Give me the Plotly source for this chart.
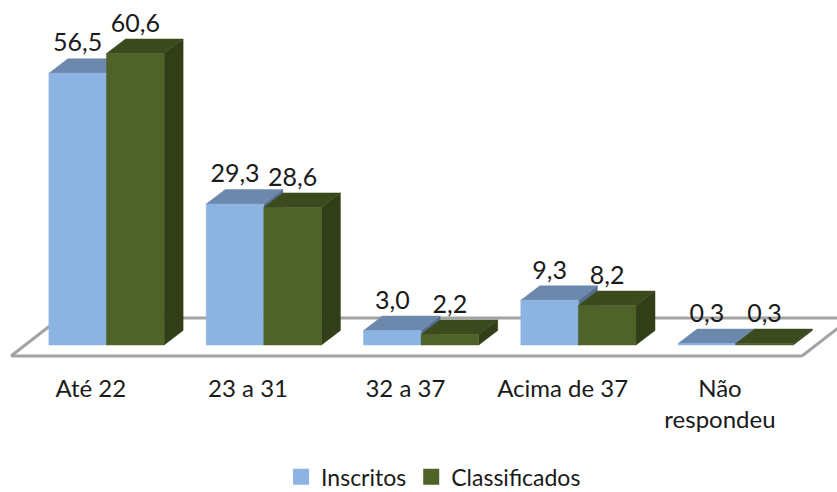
import plotly.graph_objects as go

categories = ["Até 22", "23 a 31", "32 a 37", "Acima de 37", "Não<br>respondeu"]
inscritos = [56.5, 29.3, 3.0, 9.3, 0.3]
classificados = [60.6, 28.6, 2.2, 8.2, 0.3]

W, H = 837, 492
PX_X = 157.3            # pixels per category
PX_Y = 4.81             # pixels per value unit
X0 = 106.5              # pixel of first category
Y0 = 345                # pixel of value 0
PLOT_H = 366
BAR = 57.6 / PX_X
DX = 19 / PX_X
DY = 14.5 / PX_Y
FONT = "Lato, Carlito, sans-serif"
INK = "#1a1a1a"
LINE = "#a3a3a3"


def px_x(p):
    return (p - X0) / PX_X


def px_y(p):
    return (Y0 - p) / PX_Y


def poly(xs, ys, color):
    return go.Scatter(x=xs, y=ys, mode="lines", fill="toself", fillcolor=color,
                      line=dict(color=color, width=0.5), hoverinfo="skip", showlegend=False)


def seg(xs, ys):
    return go.Scatter(x=xs, y=ys, mode="lines", line=dict(color=LINE, width=3),
                      hoverinfo="skip", showlegend=False)


fig = go.Figure()

# floor of the 3D box
back = px_y(318)
front = px_y(356)
fig.add_trace(seg([px_x(63), px_x(860)], [back, back]))
fig.add_trace(seg([px_x(11), px_x(60)], [front, px_y(318)]))
fig.add_trace(seg([px_x(802), px_x(838)], [front, px_y(328)]))
fig.add_trace(seg([px_x(11), px_x(802)], [front, front]))

series = [
    (inscritos, -BAR, "#8DB3E2", "#6C88AD", "#566F8F"),
    (classificados, 0, "#4F6228", "#3C4B1E", "#323E17"),
]
for i in range(len(categories)):
    for vals, off, c_front, c_top, c_side in series:
        v = vals[i]
        l, r = i + off, i + off + BAR
        fig.add_trace(poly([r, r + DX, r + DX, r, r], [0, DY, v + DY, v, 0], c_side))
        fig.add_trace(poly([l, r, r + DX, l + DX, l], [v, v, v + DY, v + DY, v], c_top))
        fig.add_trace(poly([l, r, r, l, l], [0, 0, v, v, 0], c_front))

# data labels
LABEL_OFF = 28 / PX_Y
for vals, off in ((inscritos, -BAR / 2), (classificados, BAR / 2)):
    fig.add_trace(go.Scatter(
        x=[i + off for i in range(len(vals))],
        y=[v + LABEL_OFF for v in vals],
        mode="text",
        text=[f"{v:.1f}".replace(".", ",") for v in vals],
        textposition="middle center",
        textfont=dict(family=FONT, size=25, color=INK),
        hoverinfo="skip", showlegend=False))

# legend entries
for name, color in (("Inscritos", "#8DB3E2"), ("Classificados", "#4F6228")):
    fig.add_trace(go.Scatter(x=[None], y=[None], mode="markers", name=name,
                             marker=dict(symbol="square", size=16, color=color)))

fig.update_layout(
    width=W, height=H, margin=dict(l=0, r=0, t=0, b=H - PLOT_H, autoexpand=False),
    paper_bgcolor="white", plot_bgcolor="white",
    font=dict(family=FONT, size=24, color=INK),
    xaxis=dict(range=[px_x(0), px_x(W)], showgrid=False, zeroline=False, showline=False,
               tickmode="array", tickvals=[i - 0.1 for i in range(len(categories))],
               ticktext=categories, ticks="", ticklabelstandoff=6, tickangle=0, fixedrange=True),
    yaxis=dict(range=[px_y(PLOT_H), px_y(0)], visible=False, fixedrange=True),
    legend=dict(orientation="h", x=0.518, xanchor="center", y=-0.303, yanchor="middle",
                font=dict(family=FONT, size=23, color=INK), itemwidth=30,
                bgcolor="rgba(0,0,0,0)", traceorder="normal"),
    showlegend=True,
)

fig.write_html("out.html", config={"displayModeBar": False},
               post_script="document.body.style.margin='0';")
